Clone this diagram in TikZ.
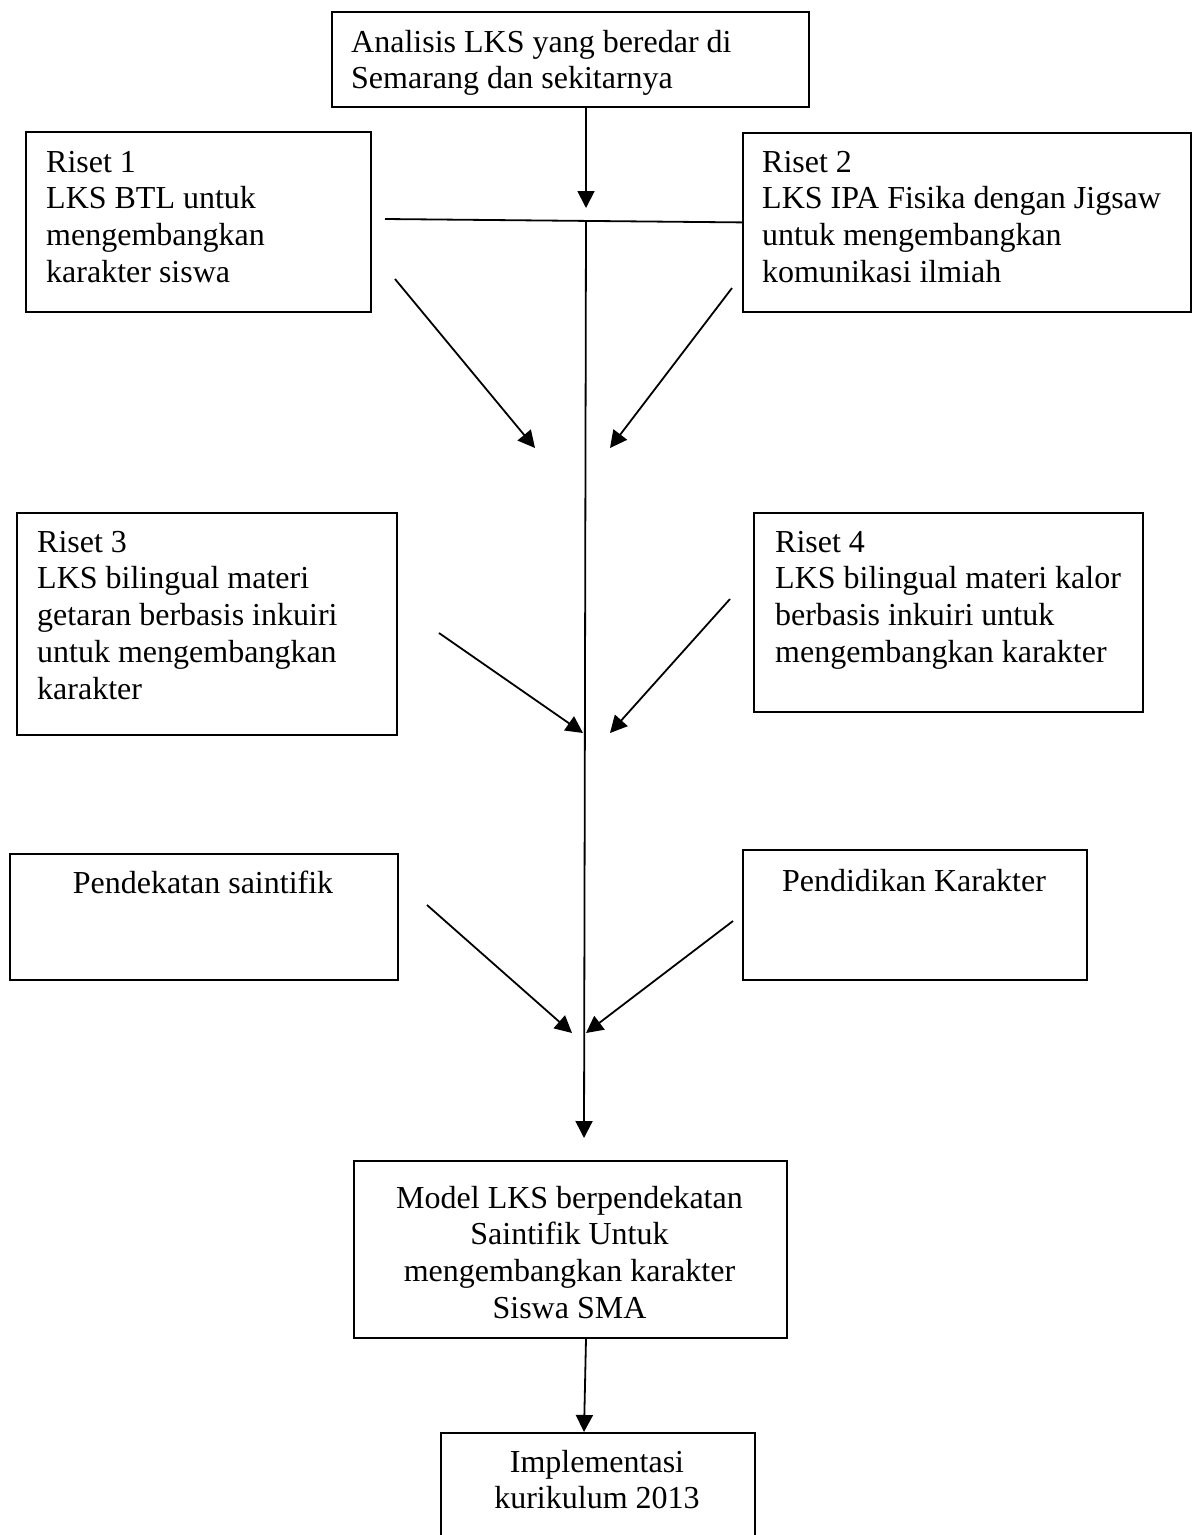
\documentclass[tikz,border=0pt]{standalone}
\usepackage{fontspec}
\setmainfont{Liberation Serif}
\usetikzlibrary{arrows.meta}
\begin{document}
\begin{tikzpicture}[x=1pt,y=-1pt,
  box/.style={draw, line width=1.8pt, inner sep=0pt, anchor=north west},
  txt/.style={inner sep=0pt, font=\fontsize{32}{36.8}\selectfont, align=left, anchor=north west},
  ctxt/.style={inner sep=0pt, font=\fontsize{32}{36.8}\selectfont, align=center, anchor=north},
  conn/.style={line width=1.8pt},
  arr/.style={conn, -{Triangle[length=17pt,width=17pt]}}]
\clip (0,0) rectangle (1198,1535);
\fill[white] (0,0) rectangle (1198,1535);
% boxes
\node[box, minimum width=477pt, minimum height=95pt] (top) at (331,11) {};
\node[box, minimum width=345pt, minimum height=180pt] (r1) at (25,131) {};
\node[box, minimum width=448pt, minimum height=179pt] (r2) at (742,132) {};
\node[box, minimum width=380pt, minimum height=222pt] (r3) at (16,512) {};
\node[box, minimum width=389pt, minimum height=199pt] (r4) at (753,512) {};
\node[box, minimum width=388pt, minimum height=126pt] (p1) at (9,853) {};
\node[box, minimum width=344pt, minimum height=130pt] (p2) at (742,849) {};
\node[box, minimum width=433pt, minimum height=177pt] (model) at (353,1160) {};
\node[box, minimum width=314pt, minimum height=160pt] (impl) at (440,1432) {};
% texts
\node[txt] (topt) at (351,26.2) {\strut Analisis LKS yang beredar di\\Semarang dan sekitarnya};
\node[txt] (r1t) at (46,146.2) {\strut Riset 1\\LKS BTL untuk\\mengembangkan\\karakter siswa};
\node[txt] (r2t) at (762,146.2) {\strut Riset 2\\LKS IPA Fisika dengan Jigsaw\\untuk mengembangkan\\komunikasi ilmiah};
\node[txt] (r3t) at (37,526.2) {\strut Riset 3\\LKS bilingual materi\\getaran berbasis inkuiri\\untuk mengembangkan\\karakter};
\node[txt] (r4t) at (775,526.2) {\strut Riset 4\\LKS bilingual materi kalor\\berbasis inkuiri untuk\\mengembangkan karakter};
\node[ctxt] (p1t) at (203,867.2) {\strut Pendekatan saintifik};
\node[ctxt] (p2t) at (914,865.2) {\strut Pendidikan Karakter};
\node[ctxt] (modelt) at (569.5,1182.2) {\strut Model LKS berpendekatan\\Saintifik Untuk\\mengembangkan karakter\\Siswa SMA};
\node[ctxt] (implt) at (597,1446.2) {\strut Implementasi\\kurikulum 2013};
% coordinates
\coordinate (jt) at (586,208);
\coordinate (jn) at (586,220);
\coordinate (hl) at (385,219);
\coordinate (vt) at (584,1138);
\coordinate (a1s) at (395,279);  \coordinate (a1e) at (535,448);
\coordinate (a2s) at (732,288);  \coordinate (a2e) at (610,448);
\coordinate (a3s) at (439,633);  \coordinate (a3e) at (583,733);
\coordinate (a4s) at (730,599);  \coordinate (a4e) at (610,733);
\coordinate (a5s) at (427,905);  \coordinate (a5e) at (572,1033);
\coordinate (a6s) at (733,921);  \coordinate (a6e) at (586,1033);
\coordinate (ms) at (586,0);
\coordinate (ie) at (584,0);
% connectors
\draw[arr] (top.south -| jt) -- (jt);
\draw[conn] (hl) -- (r2.west);
\draw[arr] (jn) -- (vt);
\draw[arr] (a1s) -- (a1e);
\draw[arr] (a2s) -- (a2e);
\draw[arr] (a3s) -- (a3e);
\draw[arr] (a4s) -- (a4e);
\draw[arr] (a5s) -- (a5e);
\draw[arr] (a6s) -- (a6e);
\draw[arr] (model.south -| ms) -- (impl.north -| ie);
\end{tikzpicture}
\end{document}
